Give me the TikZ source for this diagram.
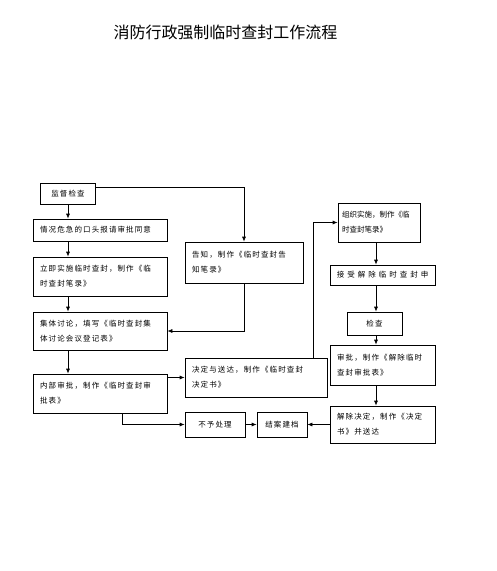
\documentclass[tikz,border=0pt]{standalone}
\usepackage{fontspec}
\newfontfamily\cjk{Noto Sans CJK SC}
\newfontfamily\cjkspaced[LetterSpace=15]{Noto Sans CJK SC}
\newfontfamily\cjkwide[LetterSpace=40]{Noto Sans CJK SC}
\usetikzlibrary{arrows.meta}
\tikzset{>=latex}
\tikzset{
  flowbox/.style={draw, line width=0.7pt, text width=#1, align=left, inner xsep=7pt, inner ysep=2pt,
    font=\cjkspaced\fontsize{7.5}{15}\selectfont, minimum height=39pt},
  tagbox/.style={draw, line width=0.7pt, align=center, inner sep=2pt,
    font=\cjkspaced\fontsize{7.5}{15}\selectfont, minimum height=22pt},
  flow/.style={-{Latex[length=5pt,width=4pt]}, line width=0.7pt}
}

\begin{document}
\begin{tikzpicture}[x=1pt, y=-1pt]
  \useasboundingbox (0,0) rectangle (497,571);
  \node[font=\cjk\fontsize{16}{19}\selectfont] (title) at (225.5,32) {消防行政强制临时查封工作流程};

  \coordinate (lcol) at (68,0);
  \coordinate (rcol) at (376,0);

  % left column
  \node[tagbox, minimum width=55pt, minimum height=21pt] (jdjc) at (68,193.5) {监督检查};
  \node[flowbox=120pt, minimum height=22pt] (qkwj) at (100,230) {情况危急的口头报请审批同意};
  \node[flowbox=120pt] (ljss) at (100,276.5) {立即实施临时查封，制作《临\\时查封笔录》};
  \node[flowbox=120pt, minimum height=38pt] (jttl) at (100,331) {集体讨论，填写《临时查封集\\体讨论会议登记表》};
  \node[flowbox=120pt] (nbsp) at (100,393.5) {内部审批，制作《临时查封审\\批表》};

  % middle column
  \node[flowbox=104pt, minimum height=41pt] (gz) at (244,262.5) {告知，制作《临时查封告\\知笔录》};
  \node[flowbox=128pt] (jdsd) at (256,377.5) {决定与送达，制作《临时查封\\决定书》};
  \node[tagbox, minimum width=60pt, minimum height=25pt] (byl) at (215,424.5) {不予处理};
  \node[tagbox, minimum width=50pt, minimum height=25pt] (jajd) at (282,424.5) {结案建档};

  % right column
  \node[flowbox=74pt, inner xsep=4pt, font=\cjk\fontsize{7.5}{15}\selectfont] (zzss) at (379,222.5) {组织实施，制作《临\\时查封笔录》};
  \node[tagbox, minimum width=105pt, minimum height=20pt, font=\cjkwide\fontsize{7.5}{15}\selectfont] (jsjc) at (382.5,275) {接受解除临时查封申};
  \node[tagbox, minimum width=55pt, minimum height=23pt] (jc) at (374.5,323.5) {检查};
  \node[flowbox=91pt, minimum height=40pt] (sp) at (382.5,365) {审批，制作《解除临时\\查封审批表》};
  \node[flowbox=91pt, minimum height=37pt] (jcjd) at (382.5,424.5) {解除决定，制作《决定\\书》并送达};

  % connectors
  \draw[flow] (jdjc.south) -- (jdjc.south |- qkwj.north);
  \draw[flow] (qkwj.south -| lcol) -- (ljss.north -| lcol);
  \draw[flow] (ljss.south -| lcol) -- (jttl.north -| lcol);
  \draw[flow] (jttl.south -| lcol) -- (nbsp.north -| lcol);
  \draw[flow] ([yshift=6pt]jdjc.east) -| (gz.north);
  \draw[flow] (gz.south) |- (jttl.east);
  \draw[flow] (nbsp.east |- jdsd.west) -- (jdsd.west);
  \draw[flow] ([xshift=22pt]nbsp.south) |- (byl.west);
  \draw[flow] (byl) -- (jajd);
  \draw[flow] (jcjd.west) -- (jajd.east);
  \draw[flow] ([xshift=57pt]jdsd.north) |- (zzss.west);
  \draw[flow] (zzss.south -| rcol) -- (jsjc.north -| rcol);
  \draw[flow] (jsjc.south -| rcol) -- (jc.north -| rcol);
  \draw[flow] (jc.south -| rcol) -- (sp.north -| rcol);
  \draw[flow] (sp.south -| rcol) -- (jcjd.north -| rcol);
\end{tikzpicture}
\end{document}
